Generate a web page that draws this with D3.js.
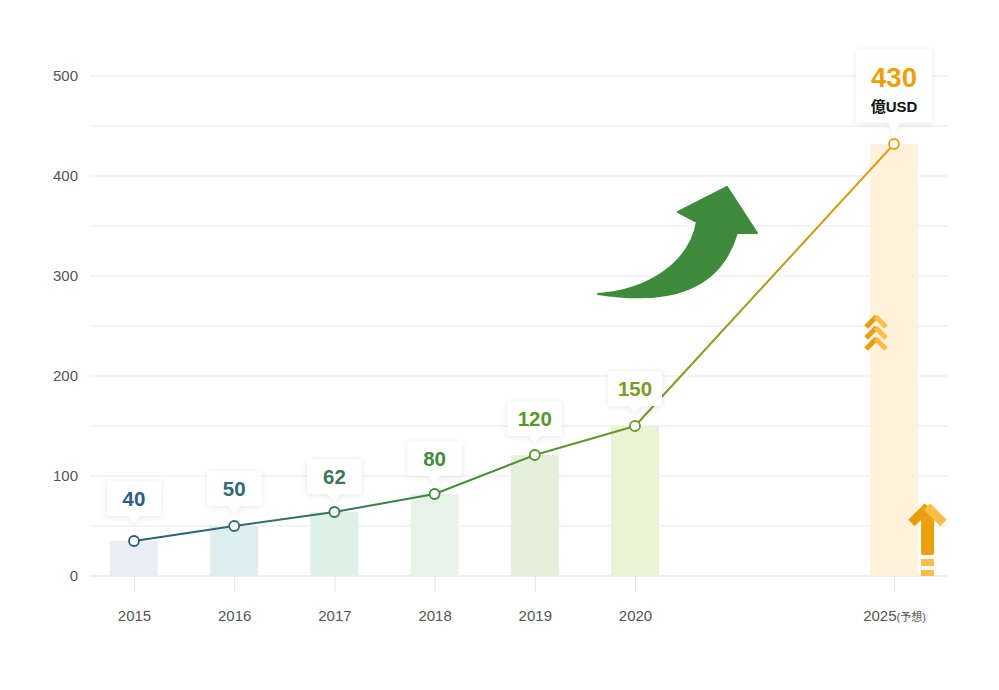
<!DOCTYPE html>
<html>
<head>
<meta charset="utf-8">
<script src="https://cdn.jsdelivr.net/npm/d3@7"></script>
<style>
  body { margin: 0; background: #fff; }
  svg { display: block; font-family: "Liberation Sans", Arial, "Noto Sans CJK JP", sans-serif; }
</style>
</head>
<body>
<svg id="chart" width="999" height="690"></svg>
<script>
// data
var years = [2015, 2016, 2017, 2018, 2019, 2020, 2025];
var values = [35, 50, 64, 82, 121, 150, 432];      // where bars and points sit
var labels = [40, 50, 62, 80, 120, 150, 430];      // numbers printed in the callouts
var yTicks = [0, 100, 200, 300, 400, 500];
var gridTicks = [0, 50, 100, 150, 200, 250, 300, 350, 400, 450, 500];

var barColors = ["#e9eef6", "#deedee", "#dff0e8", "#e7f3e6", "#e4f0dc", "#eaf4d4", "#fff2da"];
var labelColors = ["#2c5b8c", "#2f6b70", "#3a7758", "#3f8a3e", "#5a962e", "#7a9a2a", "#eaa00c"];

var svg = d3.select("#chart");
var plotLeft = 90, plotRight = 948, plotTop = 76, plotBottom = 576;
var font = "'Liberation Sans', Arial, 'Noto Sans CJK JP', sans-serif";

// the axis is compressed after 2020 (forecast gap)
var x = d3.scaleLinear().domain([2015, 2020, 2025]).range([134, 635, 894]);
var y = d3.scaleLinear().domain([0, 500]).range([plotBottom, plotTop]);
var lineColor = d3.scaleLinear()
	.domain([2015, 2017, 2018, 2020, 2025])
	.range(["#2b5a88", "#36765c", "#3f8a3c", "#6f9a2a", "#e3a012"]);

var defs = svg.append("defs");
var f = defs.append("filter").attr("id", "shadow")
	.attr("x", "-30%").attr("y", "-30%").attr("width", "160%").attr("height", "160%");
f.append("feDropShadow").attr("dx", 0).attr("dy", 1).attr("stdDeviation", 3)
	.attr("flood-color", "#000").attr("flood-opacity", 0.1);

var grad = defs.append("linearGradient").attr("id", "lineGrad")
	.attr("gradientUnits", "userSpaceOnUse")
	.attr("x1", x(2015)).attr("x2", x(2025)).attr("y1", 0).attr("y2", 0);
lineColor.domain().forEach(function(d){
	grad.append("stop")
		.attr("offset", (x(d) - x(2015)) / (x(2025) - x(2015)))
		.attr("stop-color", lineColor(d));
});

// grid
svg.append("g").selectAll("line").data(gridTicks).enter().append("line")
	.attr("x1", plotLeft).attr("x2", plotRight)
	.attr("y1", function(d){ return y(d); }).attr("y2", function(d){ return y(d); })
	.attr("stroke", function(d){ return d === 0 ? "#dcdfe4" : "#e6e9ee"; })
	.attr("stroke-width", 1);

// y labels
var yAxis = svg.append("g").attr("transform", "translate(" + plotLeft + ",0)")
	.call(d3.axisLeft(y).tickValues(yTicks).tickSize(0).tickPadding(12));
yAxis.select(".domain").remove();
yAxis.selectAll("text").attr("font-size", 15).attr("fill", "#555").attr("font-family", font);

// x axis
var xAxis = svg.append("g").attr("transform", "translate(0," + plotBottom + ")")
	.call(d3.axisBottom(x).tickValues(years).tickSize(16).tickFormat(""));
xAxis.select(".domain").remove();
xAxis.selectAll("line").attr("stroke", "#e2e4e8");
xAxis.selectAll(".tick").append("text")
	.attr("y", 45).attr("text-anchor", "middle").attr("fill", "#555")
	.attr("font-size", 15).attr("font-family", font)
	.each(function(d){
		var t = d3.select(this);
		t.append("tspan").text(d);
		if (d === 2025) t.append("tspan").attr("font-size", 11).text("(予想)");
	});

// bars
var bw = 48;
svg.append("g").selectAll("rect").data(years).enter().append("rect")
	.attr("x", function(d){ return x(d) - bw / 2; })
	.attr("width", bw)
	.attr("y", function(d, i){ return y(values[i]); })
	.attr("height", function(d, i){ return y(0) - y(values[i]); })
	.attr("fill", function(d, i){ return barColors[i]; });

// line
var line = d3.line()
	.x(function(d){ return x(d); })
	.y(function(d, i){ return y(values[i]); });
svg.append("path").datum(years)
	.attr("d", line)
	.attr("fill", "none")
	.attr("stroke", "url(#lineGrad)")
	.attr("stroke-width", 2);

svg.append("g").selectAll("circle").data(years).enter().append("circle")
	.attr("cx", function(d){ return x(d); })
	.attr("cy", function(d, i){ return y(values[i]); })
	.attr("r", 5)
	.attr("fill", "#fff")
	.attr("stroke", function(d){ return lineColor(d); })
	.attr("stroke-width", 1.8);

// callouts
function callout(cx, tip, w, h, p){
	var b = tip - p, t = b - h, l = cx - w / 2, r = cx + w / 2, rr = 3;
	return "M" + (l + rr) + "," + t + "H" + (r - rr) + "Q" + r + "," + t + " " + r + "," + (t + rr) +
		"V" + (b - rr) + "Q" + r + "," + b + " " + (r - rr) + "," + b +
		"H" + (cx + 6) + "L" + cx + "," + tip + "L" + (cx - 6) + "," + b +
		"H" + (l + rr) + "Q" + l + "," + b + " " + l + "," + (b - rr) +
		"V" + (t + rr) + "Q" + l + "," + t + " " + (l + rr) + "," + t + "Z";
}
var cg = svg.append("g").selectAll("g").data(years).enter().append("g");
cg.each(function(d, i){
	var g = d3.select(this);
	var cx = x(d), tip = y(labels[i]) - 13;
	var last = d === 2025;
	var w = last ? 76 : 54, h = last ? 74 : 35, p = last ? 10 : 7;
	var boxTop = tip - p - h;
	g.append("path").attr("d", callout(cx, tip, w, h, p)).attr("fill", "#fff").attr("filter", "url(#shadow)");
	if (!last) {
		g.append("text").attr("x", cx).attr("y", boxTop + 24.5)
			.attr("text-anchor", "middle").attr("font-size", 20.5).attr("font-weight", "bold")
			.attr("fill", labelColors[i]).text(labels[i]);
	} else {
		g.append("text").attr("x", cx).attr("y", boxTop + 38)
			.attr("text-anchor", "middle").attr("font-size", 27.5).attr("font-weight", "bold")
			.attr("fill", labelColors[i]).text(labels[i]);
		g.append("text").attr("x", cx).attr("y", boxTop + 63)
			.attr("text-anchor", "middle").attr("font-size", 15).attr("font-weight", "bold")
			.attr("fill", "#111").text("億USD");
	}
});

// big green growth arrow (decoration)
svg.append("path")
	.attr("d", "M598,294 C650,290 690,262 697,222 L678,212 L727,187 L757,233 L737,233 C720,290 670,305 598,294 Z")
	.attr("fill", "#3d8b3b").attr("stroke", "#3d8b3b").attr("stroke-width", 2).attr("stroke-linejoin", "round");

// orange chevrons on the forecast bar
var chev = svg.append("g").attr("transform", "translate(" + (x(2025) - 18) + ",0)");
[317, 328, 339].forEach(function(cy){
	chev.append("line").attr("x1", -10).attr("y1", cy + 10).attr("x2", 0.5).attr("y2", cy - 0.5)
		.attr("stroke", "#e89c10").attr("stroke-width", 5);
	chev.append("line").attr("x1", -0.5).attr("y1", cy - 0.5).attr("x2", 10).attr("y2", cy + 10)
		.attr("stroke", "#fcbd48").attr("stroke-width", 5);
});

// up arrow at the bottom right
var up = svg.append("g").attr("transform", "translate(" + (x(2025) + 33.5) + ",0)");
up.append("rect").attr("x", -6.5).attr("y", 512).attr("width", 13).attr("height", 43).attr("rx", 2).attr("fill", "#eba00e");
up.append("rect").attr("x", -6.5).attr("y", 559).attr("width", 13).attr("height", 7).attr("fill", "#fcbd48");
up.append("rect").attr("x", -6.5).attr("y", 570).attr("width", 13).attr("height", 6).attr("fill", "#fcbd48");
up.append("line").attr("x1", -16).attr("y1", 523).attr("x2", 0.5).attr("y2", 506.5)
	.attr("stroke", "#e99c0c").attr("stroke-width", 9);
up.append("line").attr("x1", -0.5).attr("y1", 506.5).attr("x2", 16).attr("y2", 523)
	.attr("stroke", "#fcbd48").attr("stroke-width", 9);
</script>
</body>
</html>
